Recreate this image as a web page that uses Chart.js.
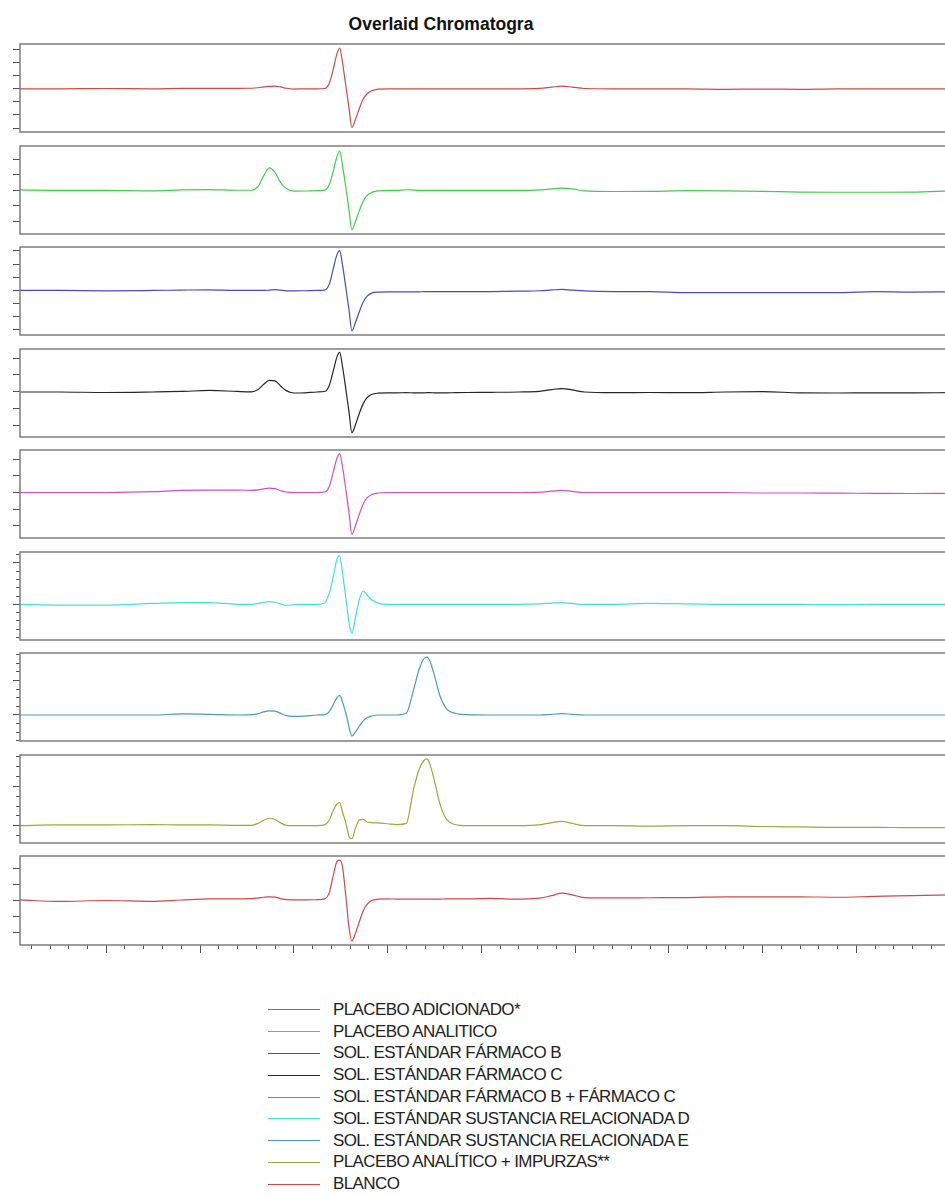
<!DOCTYPE html>
<html>
<head>
<meta charset="utf-8">
<script src="https://cdn.jsdelivr.net/npm/chart.js@4.4.0/dist/chart.umd.min.js"></script>
<style>
  html, body { margin: 0; padding: 0; background: #fff; width: 945px; height: 1195px; overflow: hidden; }
  #titulo { position: absolute; left: 0; width: 882px; top: 14px; text-align: center;
            font: bold 17.5px "Liberation Sans", Arial, sans-serif; line-height: 20px; color: #111; }
  .panel { position: absolute; left: 0; width: 950px; }
  #leyenda { position: absolute; left: 268px; top: 999px; font: 17px "Liberation Sans", Arial, sans-serif;
             letter-spacing: -0.6px; color: #222; }
  .fila { height: 21.8px; display: flex; align-items: center; white-space: nowrap; }
  .fila i { display: inline-block; width: 52px; height: 0; border-top: 1px solid; margin-right: 13px; }
</style>
</head>
<body>
<div id="titulo">Overlaid Chromatogra</div>
<div id="leyenda"></div>
<script>
// tiempo (min)
const tiempos = [
  0.08, 0.5, 1.0, 1.5, 1.8, 2.1, 2.4,
  2.55, 2.62, 2.68, 2.74, 2.8, 2.86, 2.92, 3.0, 3.12, 3.25,
  3.33, 3.38, 3.42, 3.46, 3.49, 3.52, 3.56, 3.59, 3.62, 3.66, 3.70, 3.74, 3.78, 3.83, 3.9, 4.0,
  4.1, 4.2, 4.28, 4.34, 4.39, 4.42, 4.45, 4.5, 4.56, 4.63, 4.72, 4.85,
  5.1, 5.4, 5.62, 5.75, 5.86, 5.97, 6.1,
  6.4, 6.8, 7.2, 7.6, 8.0, 8.4, 8.8, 9.2, 9.6, 10.0
];

const placeboAdicionado = [
  0, 0, 0.2, 0, 0.3, 0.3, 0.3,
  0.4, 0.8, 1.5, 1.9, 2, 1.4, 0.4, -0.2, 0, 0,
  0.2, 4.5, 14.5, 26.5, 31, 20, 0, -15, -29.6, -23, -15, -8, -4, -1.5, -0.3, 0,
  0, 0, 0, 0, 0, 0, 0, 0, 0, 0, 0, 0,
  0, 0, 0.3, 1.2, 2, 1.3, 0.2,
  0, 0, 0, -0.4, -0.2, -0.4, 0, 0, 0, 0
];
const placeboAnalitico = [
  0.3, 0, 0, -0.3, 0.3, 0.5, 0.1,
  0.1, 2.5, 9.5, 14.4, 11.5, 5, 1.2, -0.5, -0.4, -0.1,
  0.2, 4, 12, 21.5, 25.3, 16, 0, -13, -25.3, -19.7, -13, -7, -3.3, -1.3, -0.3, 0,
  0, 0.4, 0.2, 0, 0, 0, 0, 0, 0, 0, 0, 0,
  0, 0, 0.3, 1, 1.5, 1, -0.3,
  -0.7, -0.6, -0.2, -0.3, -0.6, -1.1, -1.2, -1.2, -1.1, -0.3
];
const farmacoB = [
  0, 0, -0.3, 0, 0.3, 0.5, 0,
  0, 0, 0, 0.3, 0.6, 0.3, -0.3, -0.3, -0.2, 0,
  0.3, 5, 16, 27, 30.3, 19.5, 0, -15, -30.6, -24, -16, -9, -4.5, -2, -1.2, -1,
  -1, -1, -1, -1, -0.9, -0.9, -0.9, -0.9, -0.9, -0.9, -0.9, -0.9,
  -0.8, -0.5, -0.2, 0.4, 0.8, 0.3, -0.3,
  -0.8, -0.9, -1.7, -1.7, -1.7, -1.7, -1.7, -0.9, -1.2, -1
];
const farmacoC = [
  0, 0, -0.3, 0, 0.3, 0.9, 0.3,
  0.1, 1.5, 4.5, 6.8, 6.5, 3.5, 0.8, -0.6, -0.5, 0,
  0.3, 4, 12, 20.5, 23.3, 15, 0, -12, -24, -19, -12.5, -7, -3.5, -1.5, -0.7, -0.5,
  -0.5, -0.4, -0.5, -0.5, -0.5, -0.4, -0.4, -0.5, -0.5, -0.5, -0.4, -0.3,
  -0.2, 0, 0.4, 1.4, 2, 1.2, 0,
  -0.4, -0.3, -0.4, 0, 0.2, -0.5, -0.6, -0.5, -0.5, -0.4
];
const farmacoBC = [
  0, 0, 0, 0.5, 1.3, 1.4, 1.4,
  1.3, 1.6, 2.2, 2.6, 2.3, 1.2, 0.3, 0, 0, 0,
  0.3, 3.8, 12, 20.5, 23.4, 15.5, 0, -12.5, -25.2, -19.7, -13, -7, -3.3, -1.3, -0.3, 0,
  0, 0, 0, 0, 0, 0, 0, 0, 0, 0, 0, 0,
  0, 0, 0.2, 0.8, 1.3, 0.7, 0,
  0, 0, 0, 0, -0.3, -0.3, -0.4, -0.5, -0.6, -0.5
];
const sustanciaD = [
  0, -0.2, -0.2, 0.2, 0.4, 0.4, 0,
  0, 0.2, 0.5, 0.65, 0.5, 0.1, -0.25, -0.1, 0, 0,
  0.3, 2.8, 6.5, 10.8, 11.7, 7.5, 0.8, -4.5, -7, -3, 1.2, 3.2, 2.3, 1.1, 0.3, 0,
  0, 0, 0, 0, 0, 0, 0, 0, 0, 0, 0, 0,
  0, 0, 0.1, 0.3, 0.4, 0.2, 0,
  0, 0.2, 0.1, 0, 0, 0, -0.1, 0, 0, 0
];
const sustanciaE = [
  0, 0, 0, 0, 0.3, 0.2, 0,
  0.1, 0.4, 0.9, 1.2, 1.1, 0.5, -0.2, -0.4, -0.3, 0,
  0.1, 1, 3, 5, 5.7, 3.8, 0, -3.5, -6.1, -4.8, -3.2, -1.7, -0.8, -0.3, 0, 0,
  0, 0.5, 7.5, 13.5, 16.4, 16.8, 15.8, 11.5, 5.5, 1.8, 0.5, 0.1,
  0, 0, 0, 0.2, 0.4, 0.2, 0,
  0, 0, 0, 0, 0, 0, 0, 0, 0, 0
];
const impurezas = [
  0, 0.2, 0.2, 0.3, 0.2, 0.2, 0.1,
  0.1, 0.6, 1.4, 1.9, 1.6, 0.7, 0.1, 0, 0, 0,
  0.2, 1.5, 3.8, 5.5, 5.9, 3.5, 0.3, -2.8, -3.3, -0.5, 1.5, 1.6, 1, 0.8, 0.7, 0.5,
  0.3, 0.6, 9.5, 14.5, 16.6, 17, 15.8, 11.5, 5.5, 1.6, 0.3, 0,
  0, 0, 0.2, 0.8, 1.1, 0.6, 0,
  0, -0.1, 0, 0, -0.2, -0.3, -0.4, -0.4, -0.5, -0.5
];
const blanco = [
  0.4, -0.6, 0, -0.5, 0.3, 1, 1,
  1.1, 1.5, 2, 2.3, 2.1, 1.2, 0.5, 0.4, 0.4, 0.5,
  1, 5, 15, 24, 25, 21, 0, -17, -25, -20, -13, -6.5, -2.5, 0, 0.8, 1,
  0.9, 0.8, 0.8, 0.8, 0.8, 0.8, 0.8, 0.8, 0.9, 1, 1, 1,
  1.3, 0.8, 1.5, 3, 4.5, 3.5, 1.8,
  1.6, 1.7, 1.8, 2.3, 2.2, 2.3, 2, 2.6, 3, 3.5
];

const nombres = [
  'PLACEBO ADICIONADO*',
  'PLACEBO ANALITICO',
  'SOL. ESTÁNDAR FÁRMACO B',
  'SOL. ESTÁNDAR FÁRMACO C',
  'SOL. ESTÁNDAR FÁRMACO B + FÁRMACO  C',
  'SOL. ESTÁNDAR SUSTANCIA RELACIONADA D',
  'SOL. ESTÁNDAR SUSTANCIA RELACIONADA E',
  'PLACEBO ANALÍTICO + IMPURZAS**',
  'BLANCO'
];
const series = [placeboAdicionado, placeboAnalitico, farmacoB, farmacoC, farmacoBC,
                sustanciaD, sustanciaE, impurezas, blanco];
const colores = ['#d24848', '#3ecf48', '#4a4ac0', '#262626', '#cc4fcc',
                 '#3ee0e0', '#4a9db3', '#9aa83c', '#d24848'];

// escala vertical de cada panel
const yMin = [-33, -28, -33.8, -26.5, -27.4, -8.6, -7.55, -4.4, -27.5];
const yMax = [34.2, 28.5, 33, 25.3, 25.6, 12.6, 18, 18, 27.5];
const yPaso = [10, 10, 10, 10, 10, 2, 2.5, 2.5, 10];

const esMayor = (v, paso) => Math.abs(v / paso - Math.round(v / paso)) < 1e-6;

const marco = {
  id: 'marco',
  afterDatasetsDraw(chart) {
    const { ctx, chartArea: a } = chart;
    ctx.save();
    ctx.strokeStyle = '#7d7d7d';
    ctx.lineWidth = 1.5;
    ctx.strokeRect(a.left, a.top, a.right - a.left, a.bottom - a.top);
    ctx.restore();
  }
};

series.forEach((valores, i) => {
  const ultimo = i === series.length - 1;
  const caja = document.createElement('div');
  caja.className = 'panel';
  caja.style.top = (Math.round(44 + i * 101.5) - 1) + 'px';
  caja.style.height = (ultimo ? 100 : 90) + 'px';
  const lienzo = document.createElement('canvas');
  caja.appendChild(lienzo);
  document.body.appendChild(caja);

  new Chart(lienzo, {
    type: 'line',
    data: {
      datasets: [{
        label: nombres[i],
        data: tiempos.map((t, k) => ({ x: t, y: valores[k] })),
        borderColor: colores[i],
        borderWidth: 1.2,
        pointRadius: 0,
        cubicInterpolationMode: 'monotone',
        fill: false
      }]
    },
    options: {
      responsive: true,
      maintainAspectRatio: false,
      animation: false,
      layout: { padding: { top: 1, bottom: ultimo ? 0 : 1, left: 0, right: 0 } },
      plugins: { legend: { display: false }, tooltip: { enabled: false } },
      scales: {
        x: {
          type: 'linear',
          min: 0.08,
          max: 10,
          afterFit: s => { s.height = ultimo ? 10 : 0; },
          border: { display: false },
          grid: {
            display: ultimo,
            drawOnChartArea: false,
            tickLength: 8,
            tickColor: '#555',
            tickBorderDash: c => (c.tick && esMayor(c.tick.value, 1)) ? [] : [4, 20]
          },
          ticks: { display: false, stepSize: 0.2, includeBounds: false }
        },
        y: {
          min: yMin[i],
          max: yMax[i],
          afterFit: s => { s.width = 20; },
          border: { display: false },
          grid: {
            drawOnChartArea: false,
            tickLength: 7,
            tickColor: '#555',
            tickBorderDash: c => (c.tick && esMayor(c.tick.value, 10)) ? [] : [0, 3, 4, 20]
          },
          ticks: { display: false, stepSize: yPaso[i], includeBounds: false }
        }
      }
    },
    plugins: [marco]
  });
});

// leyenda
const leyenda = document.getElementById('leyenda');
nombres.forEach((n, i) => {
  const fila = document.createElement('div');
  fila.className = 'fila';
  const linea = document.createElement('i');
  linea.style.borderColor = colores[i];
  fila.appendChild(linea);
  fila.appendChild(document.createTextNode(n));
  leyenda.appendChild(fila);
});
</script>
</body>
</html>
